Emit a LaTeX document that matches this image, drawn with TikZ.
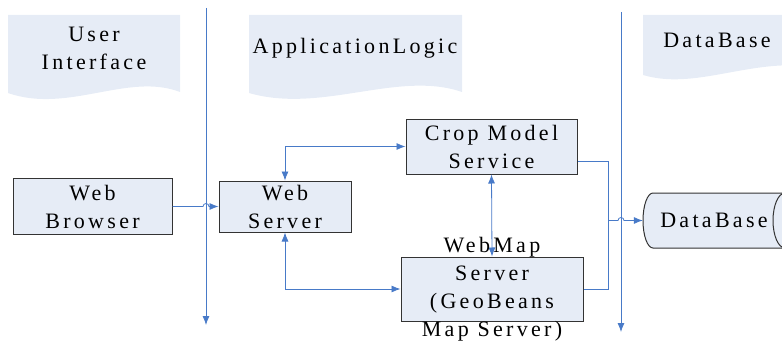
\documentclass[tikz,border=0pt]{standalone}
\usepackage{fontspec}
\setmainfont{Liberation Serif}[LetterSpace=15]
\usetikzlibrary{arrows.meta}
\definecolor{paleblue}{RGB}{230,236,246}
\definecolor{lineblue}{RGB}{72,122,200}
\tikzset{>={Latex[length=9pt,width=7pt]},
  box/.style={draw=black!80, line width=1pt, fill=paleblue, inner sep=0pt, align=center,
    font=\fontsize{22}{28}\selectfont},
  txt/.style={align=center, inner sep=0pt, font=\fontsize{22}{28}\selectfont},
  flow/.style={lineblue, line width=0.8pt}}

\begin{document}
\begin{tikzpicture}[x=1pt,y=-1pt]
    \clip (0,0) rectangle (782,345);
    % lane headings
    \fill[paleblue] (8,15) -- (180,15) -- (180,92) .. controls (128,72) and (68,114) .. (8,93) -- cycle;
    \fill[paleblue] (249,15) -- (462,15) -- (462,92) .. controls (398,70) and (322,114) .. (249,93) -- cycle;
    \fill[paleblue] (643,15) -- (830,15) -- (830,70) .. controls (760,52) and (700,92) .. (643,75) -- cycle;
    \node[txt] (ui) at (94,48) {User\\Interface};
    \node[txt] (logic) at (355,48) {ApplicationLogic};
    \node[txt] (data) at (717,40) {DataBase};

    % lane separators
    \coordinate (laneA top) at (206,8);
    \coordinate (laneA end) at (206,325);
    \coordinate (laneB top) at (621,12);
    \coordinate (laneB end) at (621,332);
    \draw[flow,->] (laneA top) -- (laneA end);
    \draw[flow,->] (laneB top) -- (laneB end);

    \node[box, minimum width=159pt, minimum height=56pt] (browser) at (92.5,206.5) {Web\\Browser};
    \node[box, minimum width=132pt, minimum height=51pt] (server) at (285,206.5) {Web\\Server};
    \node[box, minimum width=171pt, minimum height=55pt] (crop) at (491.5,146.5) {Crop Model\\Service};
    \node[box, minimum width=182pt, minimum height=64pt] (wms) at (492,289) {};

    % the database drum
    \path[fill=paleblue, draw=black!80, line width=1pt] (785,193) -- (653,193)
        arc[start angle=-90, end angle=-270, x radius=10, y radius=27.5] -- (785,248);
    \draw[fill=paleblue, draw=black!80, line width=1pt] (785,220.5) ellipse[x radius=12, y radius=27.5];
    \node[txt, minimum width=142pt, minimum height=55pt] (db) at (714,220.5) {DataBase};

    \draw[flow,->] (browser.east) -- (203,206.5) arc[start angle=180, end angle=360, radius=3] -- (server.west);
    \draw[flow,<->] (server.north) |- (crop.west);
    \draw[flow,<->] (server.south) |- (wms.west);
    \draw[flow,<->] (crop.south) -- (wms.north);
    \coordinate (join) at (608,220.5);
    \draw[flow] ([yshift=-14.5pt]crop.east) -| (join);
    \draw[flow] (wms.east) -| (join);
    \draw[flow,->] (join) -- (618,220.5) arc[start angle=180, end angle=360, radius=3] -- (db.west);

    \node[txt] (wmstext) at (wms) {WebMap\\Server\\(GeoBeans\\Map Server)};
\end{tikzpicture}
\end{document}
